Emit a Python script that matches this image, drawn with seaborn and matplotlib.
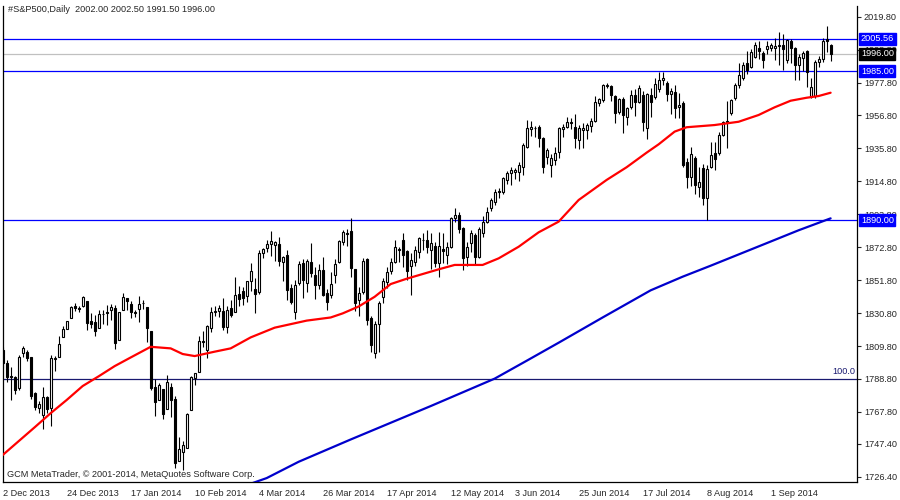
import matplotlib
matplotlib.use("Agg")
import matplotlib.pyplot as plt
import matplotlib.transforms as mtransforms
import seaborn as sns

# data (daily candles of the #S&P500 CFD, 2 Dec 2013 .. 22 Sep 2014)

opens = [
    1807.3, 1798.8, 1790.3, 1790.3, 1782.8, 1805.1, 1806.0, 1802.6, 1779.6, 1770.0,
    1765.8, 1777.1, 1770.1, 1801.5, 1802.9, 1815.4, 1820.5, 1827.5, 1835.4, 1834.0,
    1835.1, 1838.4, 1825.7, 1824.8, 1821.2, 1830.4, 1831.5, 1832.6, 1833.8, 1813.9,
    1833.0, 1840.5, 1836.7, 1831.2, 1833.6, 1837.2, 1834.8, 1819.5, 1783.5, 1775.5,
    1782.7, 1769.7, 1783.4, 1776.0, 1736.8, 1742.4, 1745.0, 1769.0, 1789.2, 1793.5,
    1813.1, 1807.2, 1821.5, 1831.6, 1832.0, 1831.9, 1822.2, 1834.1, 1831.8, 1842.7,
    1845.0, 1842.0, 1851.5, 1846.0, 1844.0, 1869.0, 1872.0, 1875.0, 1874.2, 1875.0,
    1863.4, 1867.8, 1846.8, 1831.7, 1850.2, 1862.5, 1850.2, 1863.6, 1855.1, 1848.7,
    1858.3, 1843.4, 1842.3, 1855.1, 1863.6, 1876.3, 1882.0, 1883.3, 1858.9, 1839.1,
    1844.4, 1865.3, 1827.4, 1805.1, 1823.8, 1841.2, 1850.8, 1857.8, 1863.6, 1871.8,
    1877.4, 1870.6, 1860.8, 1863.6, 1870.0, 1877.6, 1877.4, 1871.0, 1873.6, 1862.5,
    1871.5, 1867.8, 1873.1, 1891.6, 1893.3, 1884.8, 1866.8, 1875.3, 1880.6, 1866.8,
    1882.1, 1889.1, 1897.6, 1901.8, 1908.5, 1908.2, 1915.6, 1919.9, 1920.5, 1921.0,
    1924.1, 1936.9, 1948.0, 1948.6, 1949.2, 1942.2, 1930.1, 1925.2, 1928.4, 1933.7,
    1948.0, 1949.7, 1952.5, 1949.7, 1941.2, 1947.5, 1947.5, 1950.1, 1953.5, 1964.5,
    1966.7, 1975.8, 1975.6, 1969.2, 1959.2, 1967.1, 1956.0, 1962.0, 1969.9, 1965.6,
    1969.9, 1948.6, 1969.9, 1968.5, 1973.5, 1979.5, 1977.3, 1970.5, 1972.0, 1962.0,
    1964.6, 1927.3, 1917.8, 1929.9, 1911.5, 1923.6, 1904.0, 1924.0, 1933.0, 1932.7,
    1944.4, 1953.4, 1958.4, 1967.8, 1976.2, 1980.5, 1990.0, 1988.0, 1994.3, 2000.0,
    1996.6, 1999.0, 2000.0, 2000.0, 2001.0, 2001.5, 1992.2, 2004.3, 1999.6, 1989.0,
    1993.3, 1997.9, 1969.2, 1969.2, 1991.0, 1992.6, 2005.5, 2002.0,
]
highs = [
    1809.0, 1800.9, 1796.6, 1791.0, 1804.0, 1809.8, 1807.5, 1803.0, 1780.5, 1775.0,
    1783.9, 1778.0, 1804.1, 1803.4, 1816.3, 1822.3, 1825.8, 1835.3, 1837.4, 1835.0,
    1841.9, 1838.4, 1830.7, 1829.7, 1832.6, 1832.5, 1835.7, 1836.3, 1836.0, 1831.8,
    1843.3, 1840.5, 1838.5, 1832.5, 1841.8, 1839.4, 1834.8, 1819.5, 1788.5, 1786.4,
    1782.7, 1791.3, 1786.4, 1777.8, 1751.7, 1749.0, 1767.1, 1791.0, 1792.9, 1816.5,
    1819.6, 1823.3, 1834.7, 1835.0, 1835.9, 1840.5, 1835.1, 1839.1, 1853.7, 1847.9,
    1847.7, 1851.5, 1862.9, 1853.0, 1871.0, 1872.5, 1877.5, 1883.0, 1877.0, 1879.0,
    1867.0, 1871.0, 1849.5, 1852.0, 1864.0, 1865.5, 1865.0, 1875.3, 1860.0, 1862.0,
    1866.5, 1846.0, 1857.0, 1865.5, 1877.5, 1884.0, 1884.5, 1891.2, 1859.0, 1847.5,
    1866.0, 1866.0, 1829.0, 1826.0, 1838.5, 1853.0, 1860.0, 1866.0, 1877.3, 1873.0,
    1881.6, 1871.0, 1868.8, 1873.5, 1879.5, 1881.6, 1883.8, 1881.6, 1876.0, 1882.6,
    1881.6, 1876.0, 1892.0, 1897.6, 1895.0, 1886.0, 1876.0, 1884.0, 1882.0, 1885.5,
    1893.0, 1898.7, 1904.0, 1910.0, 1910.5, 1917.5, 1921.5, 1924.0, 1923.5, 1927.0,
    1939.0, 1953.9, 1953.0, 1950.0, 1950.5, 1943.0, 1936.0, 1932.0, 1937.0, 1949.5,
    1951.5, 1956.0, 1955.5, 1958.0, 1950.5, 1951.8, 1952.0, 1955.0, 1969.0, 1968.0,
    1977.0, 1977.5, 1976.5, 1969.8, 1968.0, 1968.5, 1962.0, 1973.0, 1973.5, 1976.5,
    1972.5, 1971.0, 1974.0, 1980.5, 1984.7, 1984.7, 1978.5, 1974.5, 1976.5, 1971.0,
    1966.0, 1929.5, 1937.0, 1931.0, 1924.0, 1926.0, 1925.0, 1940.0, 1940.0, 1946.0,
    1953.5, 1966.0, 1967.5, 1977.5, 1990.0, 1991.0, 1997.8, 1999.0, 2003.5, 2004.0,
    1998.0, 2004.0, 2003.0, 2006.4, 2010.2, 2009.0, 2005.5, 2005.5, 2000.5, 1996.0,
    1998.0, 1998.5, 1981.0, 1992.0, 1995.0, 2006.0, 2013.9, 2002.5,
]
lows = [
    1796.0, 1787.0, 1775.4, 1779.0, 1782.0, 1803.0, 1800.0, 1776.0, 1769.0, 1767.0,
    1756.9, 1767.0, 1759.0, 1793.8, 1802.9, 1815.4, 1820.5, 1827.5, 1832.3, 1831.3,
    1834.9, 1820.2, 1821.6, 1816.2, 1821.2, 1823.9, 1822.9, 1826.6, 1808.0, 1813.9,
    1833.0, 1832.8, 1827.7, 1828.5, 1824.9, 1833.4, 1812.6, 1782.0, 1765.4, 1775.5,
    1763.0, 1769.7, 1764.8, 1732.0, 1736.8, 1731.0, 1745.0, 1769.0, 1784.8, 1793.4,
    1809.0, 1802.2, 1818.9, 1829.0, 1828.6, 1820.0, 1817.9, 1828.6, 1831.8, 1835.2,
    1835.7, 1838.0, 1845.0, 1830.6, 1843.0, 1866.0, 1870.0, 1867.0, 1864.0, 1861.0,
    1851.5, 1839.0, 1836.5, 1827.0, 1849.0, 1840.5, 1844.5, 1853.5, 1840.0, 1846.0,
    1842.0, 1832.7, 1840.5, 1850.0, 1863.0, 1874.0, 1873.5, 1854.0, 1832.0, 1829.0,
    1843.0, 1823.5, 1806.0, 1801.9, 1806.0, 1837.0, 1847.0, 1855.5, 1863.0, 1863.5,
    1860.5, 1852.0, 1842.3, 1861.0, 1866.0, 1871.0, 1869.0, 1859.0, 1860.0, 1854.0,
    1862.5, 1862.0, 1872.0, 1889.0, 1882.0, 1858.2, 1861.0, 1870.0, 1862.0, 1866.0,
    1879.0, 1888.0, 1896.0, 1900.0, 1904.0, 1907.0, 1913.0, 1912.5, 1916.0, 1915.0,
    1919.0, 1936.0, 1944.0, 1943.0, 1937.0, 1920.0, 1926.0, 1917.8, 1925.0, 1930.0,
    1943.0, 1948.5, 1948.0, 1936.0, 1935.5, 1935.8, 1942.0, 1946.0, 1952.5, 1963.0,
    1965.5, 1974.5, 1966.0, 1951.8, 1957.5, 1945.4, 1950.5, 1961.0, 1956.5, 1965.0,
    1947.0, 1941.8, 1956.0, 1967.0, 1972.0, 1976.5, 1966.0, 1957.5, 1955.0, 1955.0,
    1924.0, 1910.4, 1912.0, 1907.0, 1905.0, 1899.5, 1890.0, 1923.0, 1922.0, 1931.5,
    1943.5, 1936.0, 1957.0, 1966.5, 1974.0, 1979.5, 1983.0, 1987.0, 1993.5, 1993.0,
    1987.0, 1996.0, 1998.0, 1992.0, 1989.0, 1986.0, 1990.0, 1990.0, 1979.6, 1979.6,
    1985.0, 1975.0, 1968.0, 1968.0, 1988.0, 1991.0, 1997.0, 1991.5,
]
closes = [
    1798.8, 1790.3, 1790.8, 1781.7, 1803.0, 1808.3, 1802.0, 1777.9, 1771.1, 1772.8,
    1777.5, 1769.4, 1801.9, 1802.1, 1810.8, 1820.5, 1825.8, 1834.5, 1833.9, 1833.6,
    1840.9, 1824.5, 1823.9, 1819.3, 1830.4, 1830.0, 1830.6, 1834.9, 1811.7, 1831.4,
    1840.9, 1838.4, 1831.2, 1831.0, 1836.3, 1837.4, 1821.0, 1782.8, 1774.1, 1785.0,
    1766.7, 1786.7, 1775.1, 1734.9, 1744.0, 1746.5, 1766.4, 1790.0, 1792.8, 1812.8,
    1812.3, 1822.8, 1831.6, 1832.0, 1833.8, 1821.8, 1832.8, 1829.3, 1842.6, 1840.1,
    1840.2, 1851.0, 1857.5, 1843.0, 1869.0, 1871.6, 1875.0, 1877.0, 1876.3, 1864.0,
    1866.6, 1845.5, 1837.8, 1848.7, 1862.1, 1851.9, 1864.2, 1856.1, 1848.7, 1858.3,
    1842.3, 1838.0, 1849.3, 1862.1, 1877.0, 1882.3, 1881.5, 1859.3, 1837.0, 1843.4,
    1864.2, 1826.4, 1810.4, 1823.8, 1837.4, 1851.5, 1857.2, 1863.6, 1873.1, 1871.0,
    1867.8, 1857.8, 1864.6, 1871.0, 1878.5, 1877.2, 1873.1, 1875.3, 1862.5, 1873.6,
    1870.5, 1873.1, 1891.2, 1893.3, 1884.2, 1865.7, 1873.1, 1881.6, 1866.8, 1884.2,
    1889.1, 1895.5, 1902.9, 1908.2, 1908.0, 1916.7, 1919.9, 1922.0, 1922.0, 1925.2,
    1938.0, 1948.6, 1949.7, 1949.0, 1942.6, 1924.1, 1934.8, 1929.5, 1932.7, 1948.6,
    1949.7, 1952.8, 1952.0, 1942.2, 1948.6, 1948.5, 1950.7, 1953.5, 1965.6, 1967.1,
    1976.2, 1976.4, 1969.9, 1958.2, 1967.1, 1957.1, 1961.3, 1969.9, 1965.6, 1974.1,
    1952.8, 1970.5, 1965.6, 1977.0, 1979.5, 1980.5, 1970.5, 1972.3, 1961.4, 1963.5,
    1925.2, 1917.8, 1932.2, 1912.5, 1914.4, 1904.0, 1922.7, 1931.6, 1928.8, 1944.4,
    1952.8, 1952.8, 1966.7, 1976.2, 1982.6, 1989.0, 1985.8, 1997.5, 2001.7, 1998.0,
    1992.0, 2001.0, 2001.5, 2001.0, 2001.5, 1999.5, 2005.0, 1999.6, 1989.0, 1993.9,
    1996.4, 1984.7, 1975.0, 1991.1, 1993.0, 2004.3, 2004.5, 1996.0,
]

# moving averages (bar index, price)
ma_red_idx = [0, 8, 12, 16, 20, 24, 28, 32, 37, 42, 45, 48, 53, 57, 62, 68, 76, 82, 85,
              89, 93, 97, 101, 105, 109, 113, 120, 124, 129, 134, 139, 144, 151, 156,
              161, 164, 168, 171, 178, 184, 189, 193, 197, 201, 204, 207]
ma_red = [1740.3, 1758.0, 1767.0, 1775.4, 1784.3, 1790.5, 1797.0, 1802.5, 1809.3, 1808.3,
          1804.7, 1803.4, 1806.2, 1808.3, 1815.3, 1821.5, 1826.0, 1828.0, 1830.6, 1835.0,
          1841.2, 1849.3, 1852.7, 1855.7, 1858.7, 1861.5, 1861.5, 1865.7, 1873.1, 1882.3,
          1889.1, 1902.9, 1915.7, 1923.8, 1933.1, 1938.4, 1946.5, 1949.3, 1950.7, 1952.8,
          1957.1, 1962.0, 1966.2, 1968.1, 1969.2, 1971.3]
ma_blue_idx = [62, 66, 74, 87, 107, 123, 131, 139, 150, 162, 170, 177, 192, 199, 207]
ma_blue = [1722.0, 1725.6, 1736.0, 1750.2, 1771.5, 1789.0, 1800.4, 1811.9, 1828.0,
           1845.3, 1854.0, 1861.0, 1876.4, 1883.6, 1891.2]

date_labels = ["2 Dec 2013", "24 Dec 2013", "17 Jan 2014", "10 Feb 2014", "4 Mar 2014",
               "26 Mar 2014", "17 Apr 2014", "12 May 2014", "3 Jun 2014", "25 Jun 2014",
               "17 Jul 2014", "8 Aug 2014", "1 Sep 2014"]
price_ticks = [2019.8, 1998.8, 1977.8, 1956.8, 1935.8, 1914.8, 1893.8, 1872.8, 1851.8,
               1830.8, 1809.8, 1788.8, 1767.8, 1747.4, 1726.4]
level_lines = [2005.56, 1985.00, 1890.00]
last_price = 1996.00
hundred_level = 1789.0

title = "#S&P500,Daily  2002.00 2002.50 1991.50 1996.00"
copyright_text = "GCM MetaTrader, \u00a9 2001-2014, MetaQuotes Software Corp."


def main():
    sns.set_style("white")
    plt.rcParams["font.family"] = ["Liberation Sans", "DejaVu Sans"]
    fs = 6.6

    fig = plt.figure(figsize=(9, 5), dpi=100)
    ax = fig.add_axes([2.7 / 900, 18 / 500, 854.3 / 900, 476 / 500])
    ax.set_facecolor("white")

    n = len(closes)
    xs = list(range(n))

    # horizontal levels
    for lv in level_lines:
        ax.axhline(lv, color="#0000ff", lw=0.9, zorder=1)
    ax.axhline(last_price, color="#c0c0c0", lw=0.9, zorder=1)
    ax.axhline(hundred_level, color="#191970", lw=0.9, zorder=1)

    # candles
    ax.vlines(xs, lows, highs, color="black", lw=0.8, zorder=2)
    for i in xs:
        o, c = opens[i], closes[i]
        bottom = min(o, c)
        h = max(abs(c - o), 0.35)
        face = "white" if c >= o else "black"
        ax.bar(i, h, bottom=bottom, width=0.55, color=face, edgecolor="black",
               linewidth=0.8, zorder=3)

    # moving averages
    sns.lineplot(x=ma_red_idx, y=ma_red, color="#ff0000", linewidth=1.6, ax=ax, zorder=4)
    sns.lineplot(x=ma_blue_idx, y=ma_blue, color="#0000cc", linewidth=1.6, ax=ax, zorder=4)

    ax.set_xlim(0, 213.6)
    ax.set_ylim(1723.1, 2026.6)

    # axes frame
    for side in ["left", "right", "bottom"]:
        ax.spines[side].set_visible(True)
        ax.spines[side].set_color("black")
        ax.spines[side].set_linewidth(0.9)
    ax.spines["top"].set_visible(False)

    ax.yaxis.tick_right()
    ax.set_yticks(price_ticks)
    ax.set_yticklabels([f"{p:.2f}" for p in price_ticks], fontsize=fs)
    ax.tick_params(axis="y", direction="out", length=3, width=0.8, pad=2, right=True,
                   left=False)

    ax.set_xticks([16 * k for k in range(len(date_labels))])
    ax.set_xticklabels(date_labels, fontsize=fs, ha="left")
    ax.tick_params(axis="x", direction="out", length=4, width=0.8, pad=1)
    ax.set_xlabel("")
    ax.set_ylabel("")
    ax.grid(False)

    # price labels on the right scale
    trans = mtransforms.blended_transform_factory(ax.transAxes, ax.transData)
    for lv in level_lines:
        ax.text(1.0045, lv, f"{lv:.2f}", transform=trans, fontsize=fs, color="white",
                va="center", ha="left", clip_on=False, zorder=10,
                bbox=dict(boxstyle="square,pad=0.18", fc="#0000ff", ec="#0000ff"))
    ax.text(1.0045, last_price, f"{last_price:.2f}", transform=trans, fontsize=fs,
            color="white", va="center", ha="left", clip_on=False, zorder=10,
            bbox=dict(boxstyle="square,pad=0.18", fc="black", ec="black"))
    ax.text(0.998, hundred_level + 1.6, "100.0", transform=trans, fontsize=fs,
            color="#191970", va="bottom", ha="right", zorder=5)

    fig.text(8 / 900, 1 - 10 / 500, title, fontsize=fs, va="center", ha="left")
    ax.text(4.5 / 854.3, 7.5 / 476, copyright_text, transform=ax.transAxes, fontsize=fs,
            va="center", ha="left", zorder=6)

    fig.savefig("out.png", dpi=100)
    plt.close(fig)


if __name__ == "__main__":
    main()
